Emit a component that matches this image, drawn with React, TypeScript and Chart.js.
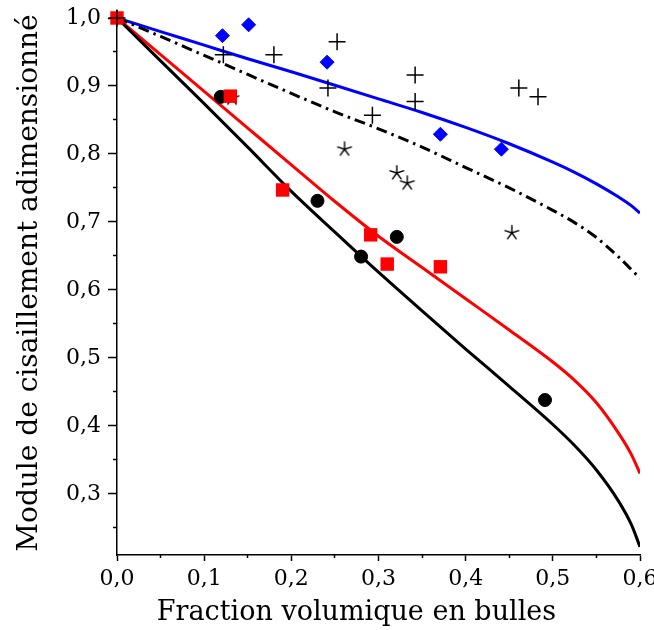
import React, { useEffect, useRef } from 'react';
import { Chart, registerables } from 'chart.js';

Chart.register(...registerables);

// Curves (model predictions), sampled along the volume fraction
const curveX = [0, 0.05, 0.1, 0.15, 0.2, 0.25, 0.3, 0.35, 0.4, 0.45, 0.5, 0.525, 0.55, 0.575, 0.59, 0.6];
const blueCurve = [1.0, 0.98, 0.96, 0.94, 0.921, 0.901, 0.881, 0.861, 0.839, 0.815, 0.788, 0.773, 0.756, 0.737, 0.724, 0.713];
const dashDotCurve = [1.0, 0.973, 0.945, 0.917, 0.889, 0.862, 0.837, 0.81, 0.78, 0.75, 0.717, 0.699, 0.677, 0.649, 0.63, 0.617];
const redCurve = [1.0, 0.946, 0.892, 0.838, 0.784, 0.73, 0.679, 0.633, 0.587, 0.541, 0.494, 0.467, 0.434, 0.39, 0.358, 0.33];
const blackCurve = [1.0, 0.937, 0.874, 0.81, 0.745, 0.685, 0.626, 0.569, 0.513, 0.458, 0.402, 0.371, 0.335, 0.29, 0.255, 0.222];

// Experimental points
const diamondX = [0.121, 0.151, 0.241, 0.371, 0.441];
const diamondY = [0.974, 0.99, 0.935, 0.829, 0.807];
const squareX = [0, 0.13, 0.19, 0.291, 0.31, 0.371];
const squareY = [1.0, 0.885, 0.747, 0.681, 0.638, 0.634];
const circleX = [0.119, 0.23, 0.28, 0.321, 0.491];
const circleY = [0.884, 0.731, 0.649, 0.678, 0.438];
const plusX = [0, 0.122, 0.18, 0.2525, 0.242, 0.342, 0.342, 0.293, 0.461, 0.483];
const plusY = [1.0, 0.946, 0.946, 0.965, 0.897, 0.916, 0.877, 0.857, 0.897, 0.884];
const starX = [0.132, 0.261, 0.321, 0.333, 0.453];
const starY = [0.882, 0.807, 0.772, 0.757, 0.684];

// Axis ticks
const xTicks = [0, 0.1, 0.2, 0.3, 0.4, 0.5, 0.6];
const xMinorTicks = [0.05, 0.15, 0.25, 0.35, 0.45, 0.55];
const yTicks = [0.3, 0.4, 0.5, 0.6, 0.7, 0.8, 0.9, 1.0];
const yMinorTicks = [0.25, 0.35, 0.45, 0.55, 0.65, 0.75, 0.85, 0.95];

const xTitle = 'Fraction volumique en bulles';
const yTitle = 'Module de cisaillement adimensionné';

const fmt = (v: number) => Number(v).toFixed(1).replace('.', ',');
const pts = (xs: number[], ys: number[]) => xs.map((x, i) => ({ x, y: ys[i] }));

function makeStar(): HTMLCanvasElement {
  const c = document.createElement('canvas');
  const s = 20;
  c.width = s;
  c.height = s;
  const ctx = c.getContext('2d')!;
  ctx.strokeStyle = '#000';
  ctx.lineWidth = 1.4;
  ctx.lineCap = 'butt';
  const r = 7.8;
  ctx.beginPath();
  for (let k = 0; k < 5; k++) {
    const a = -Math.PI / 2 + (k * 2 * Math.PI) / 5;
    ctx.moveTo(s / 2, s / 2);
    ctx.lineTo(s / 2 + r * Math.cos(a), s / 2 + r * Math.sin(a));
  }
  ctx.stroke();
  return c;
}

// Shifts the x-axis title box (title only, no ticks) to match the figure's placement
const titleShift = {
  id: 'titleShift',
  afterLayout(chart: any) {
    const s = chart.scales.xt;
    if (s) {
      s.left -= 22;
      s.right -= 22;
    }
  },
};

export default function App() {
  const ref = useRef<HTMLCanvasElement | null>(null);

  useEffect(() => {
    if (!ref.current) return;
    const family = '"DejaVu Serif", serif';
    Chart.defaults.font.family = family;
    Chart.defaults.color = '#000';
    const star = makeStar();

    const lineDs = (label: string, ys: number[], color: string, dash: number[] = []) => ({
      label,
      data: pts(curveX, ys),
      showLine: true,
      borderColor: color,
      backgroundColor: color,
      borderWidth: 3,
      borderDash: dash,
      pointRadius: 0,
      cubicInterpolationMode: 'monotone' as const,
      order: 10,
    });

    const chart = new Chart(ref.current, {
      type: 'scatter',
      plugins: [titleShift],
      data: {
        datasets: [
          lineDs('black', blackCurve, '#000000'),
          lineDs('red', redCurve, '#ff0000'),
          lineDs('dashdot', dashDotCurve, '#000000', [11, 5, 2.5, 5]),
          lineDs('blue', blueCurve, '#0000ff'),
          {
            label: 'circles',
            data: pts(circleX, circleY),
            pointStyle: 'circle',
            pointRadius: 6.5,
            backgroundColor: '#000',
            borderColor: '#000',
            borderWidth: 1,
            clip: false,
            order: 5,
          },
          {
            label: 'stars',
            data: pts(starX, starY),
            pointStyle: star,
            pointRadius: 8,
            clip: false,
            order: 4,
          },
          {
            label: 'diamonds',
            data: pts(diamondX, diamondY),
            pointStyle: 'rectRot',
            pointRadius: 7,
            backgroundColor: '#0000ff',
            borderColor: '#0000ff',
            borderWidth: 1,
            clip: false,
            order: 3,
          },
          {
            label: 'squares',
            data: pts(squareX, squareY),
            pointStyle: 'rect',
            pointRadius: 9.5,
            backgroundColor: '#ff0000',
            borderColor: '#ff0000',
            borderWidth: 0,
            clip: false,
            order: 2,
          },
          {
            label: 'plus',
            data: pts(plusX, plusY),
            pointStyle: 'cross',
            pointRadius: 8.5,
            borderColor: '#000',
            backgroundColor: '#000',
            borderWidth: 1.5,
            clip: false,
            order: 1,
          },
        ] as any,
      },
      options: {
        animation: false,
        responsive: true,
        maintainAspectRatio: false,
        layout: { padding: { top: 11, right: 14, bottom: 0, left: 0 } },
        plugins: { legend: { display: false }, tooltip: { enabled: false } },
        scales: {
          x: {
            type: 'linear',
            position: 'bottom',
            min: 0,
            max: 0.6,
            weight: 1,
            afterBuildTicks: (s: any) => {
              s.ticks = xTicks.map((v) => ({ value: v }));
            },
            afterFit: (s: any) => {
              s.height = 75;
              s.paddingLeft = 0;
              s.paddingRight = 0;
            },
            grid: { drawOnChartArea: false, drawTicks: true, tickLength: 6, tickColor: '#000', tickWidth: 1.5 },
            border: { display: true, color: '#000', width: 1.5 },
            ticks: {
              callback: (v: any) => fmt(v),
              font: { size: 22 },
              color: '#000',
              padding: 5,
              maxRotation: 0,
              autoSkip: false,
            },
            title: { display: false },
          },
          xm: {
            type: 'linear',
            position: 'bottom',
            min: 0,
            max: 0.6,
            weight: 0,
            afterBuildTicks: (s: any) => {
              s.ticks = xMinorTicks.map((v) => ({ value: v }));
            },
            afterFit: (s: any) => {
              s.height = 0;
              s.paddingLeft = 0;
              s.paddingRight = 0;
            },
            grid: { drawOnChartArea: false, drawTicks: true, tickLength: 3, tickColor: '#000', tickWidth: 1.5 },
            border: { display: false },
            ticks: { display: false },
          },
          xt: {
            type: 'linear',
            position: 'bottom',
            min: 0,
            max: 0.6,
            weight: 2,
            afterBuildTicks: (s: any) => {
              s.ticks = [];
            },
            afterFit: (s: any) => {
              s.height = 0;
              s.paddingLeft = 0;
              s.paddingRight = 0;
            },
            grid: { display: false },
            border: { display: false },
            ticks: { display: false },
            title: { display: true, text: xTitle, font: { size: 27 }, color: '#000', padding: { top: 0, bottom: 1 } },
          },
          y: {
            type: 'linear',
            position: 'left',
            min: 0.21,
            max: 1.0103,
            weight: 1,
            afterBuildTicks: (s: any) => {
              s.ticks = yTicks.map((v) => ({ value: v }));
            },
            afterFit: (s: any) => {
              s.width = 117;
              s.paddingTop = 0;
              s.paddingBottom = 0;
            },
            grid: { drawOnChartArea: false, drawTicks: true, tickLength: 9, tickColor: '#000', tickWidth: 1.5 },
            border: { display: true, color: '#000', width: 1.5 },
            ticks: {
              callback: (v: any) => fmt(v),
              font: { size: 22 },
              color: '#000',
              padding: 7,
              autoSkip: false,
            },
            title: { display: true, text: yTitle, font: { size: 28 }, color: '#000', padding: { top: 13, bottom: 0 } },
          },
          ym: {
            type: 'linear',
            position: 'left',
            min: 0.21,
            max: 1.0103,
            weight: 0,
            afterBuildTicks: (s: any) => {
              s.ticks = yMinorTicks.map((v) => ({ value: v }));
            },
            afterFit: (s: any) => {
              s.width = 0;
              s.paddingTop = 0;
              s.paddingBottom = 0;
            },
            grid: { drawOnChartArea: false, drawTicks: true, tickLength: 4, tickColor: '#000', tickWidth: 1.5 },
            border: { display: false },
            ticks: { display: false },
          },
        },
      } as any,
    });
    return () => chart.destroy();
  }, []);

  return (
    <div style={{ position: 'fixed', left: 0, top: 0, width: 654, height: 630, background: '#fff' }}>
      <canvas ref={ref} />
    </div>
  );
}
